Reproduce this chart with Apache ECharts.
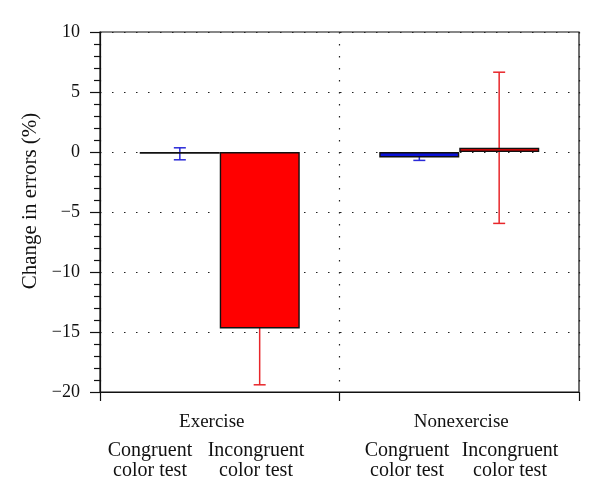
<!DOCTYPE html>
<html>
<head>
<meta charset="utf-8">
<script src="https://cdn.jsdelivr.net/npm/echarts@6/dist/echarts.min.js"></script>
<style>html,body{margin:0;padding:0;background:#fff}#c{width:600px;height:504px}</style>
</head>
<body>
<div id="c"></div>
<script>
const groups = ['Exercise', 'Nonexercise'];
const congruentMean = [-0.15, -0.45];
const congruentErr = [0.5, 0.25];
const incongruentMean = [-14.7, 0.35];
const incongruentErr = [4.7, 6.3];
const subLabels = ['Congruent\ncolor test', 'Incongruent\ncolor test'];
const yMin = -20, yMax = 10, yStep = 5;
const yName = 'Change in errors (%)';

const FONT = 'Liberation Serif';
const chart = echarts.init(document.getElementById('c'), null, {renderer: 'canvas'});

function errData(mean, err) {
  return mean.map((m, i) => [i, m - err[i], m + err[i]]);
}
function errRender(side, color) {
  return function (params, api) {
    const cat = api.value(0);
    const band = api.size([1, 0])[0];
    const off = side * band / 6;
    const lo = api.coord([cat, api.value(1)]);
    const hi = api.coord([cat, api.value(2)]);
    const x = lo[0] + off;
    const cap = 6;
    const st = {stroke: color, lineWidth: 1.5};
    return {
      type: 'group',
      children: [
        {type: 'line', shape: {x1: x, y1: lo[1], x2: x, y2: hi[1]}, style: st},
        {type: 'line', shape: {x1: x - cap, y1: lo[1], x2: x + cap, y2: lo[1]}, style: st},
        {type: 'line', shape: {x1: x - cap, y1: hi[1], x2: x + cap, y2: hi[1]}, style: st}
      ]
    };
  };
}

const dotted = {color: '#222', width: 1.2, type: [1.5, 10.5]};
const subFont = '20px "' + FONT + '"';

chart.setOption({
  animation: false,
  grid: {left: 100, top: 32, width: 479, height: 360, show: true, borderColor: '#111', borderWidth: 1.2, backgroundColor: 'transparent'},
  xAxis: {
    type: 'category',
    data: groups,
    axisLine: {onZero: false, lineStyle: {color: '#111', width: 1.2}},
    axisTick: {show: true, length: 9, lineStyle: {color: '#111', width: 1.2}},
    axisLabel: {color: '#111', fontFamily: FONT, fontSize: 19, margin: 21,
      formatter: (v, i) => i === 0 ? '{a|' + v + '}' : '{b|' + v + '}',
      rich: {
        a: {fontFamily: FONT, fontSize: 19, color: '#111', padding: [0, 16, 0, 0]},
        b: {fontFamily: FONT, fontSize: 19, color: '#111', padding: [0, 0, 0, 4]}
      }},
    splitLine: {show: true, lineStyle: dotted}
  },
  yAxis: {
    type: 'value',
    min: yMin, max: yMax, interval: yStep,
    name: yName,
    nameLocation: 'middle',
    nameGap: 58,
    nameTextStyle: {color: '#111', fontFamily: FONT, fontSize: 21, padding: [0, 0, 0, 22]},
    axisLine: {show: true, lineStyle: {color: '#111', width: 1.2}},
    axisTick: {show: true, length: 10, lineStyle: {color: '#111', width: 1.2}},
    minorTick: {show: true, splitNumber: 5, length: 6, lineStyle: {color: '#111', width: 1.2}},
    axisLabel: {color: '#111', fontFamily: FONT, fontSize: 18, margin: 20,
      formatter: v => String(v).replace('-', '\u2212')},
    splitLine: {show: true, lineStyle: dotted}
  },
  series: [
    {type: 'custom', name: 'cErr', data: errData(congruentMean, congruentErr), renderItem: errRender(-1, '#2a2ad8'), z: 1},
    {type: 'custom', name: 'iErr', data: errData(incongruentMean, incongruentErr), renderItem: errRender(1, '#e8262a'), z: 1},
    {type: 'bar', name: 'Congruent', data: congruentMean, barWidth: 80, barGap: '0%', z: 3,
      itemStyle: {color: '#0a12d8', borderColor: '#111', borderWidth: 1.4}},
    {type: 'bar', name: 'Incongruent', data: incongruentMean, barWidth: 80, barGap: '0%', z: 3,
      itemStyle: {color: '#ff0000', borderColor: '#111', borderWidth: 1.4}}
  ],
  graphic: [
    {type: 'text', x: 150, y: 461, style: {text: subLabels[0], font: subFont, fill: '#111', align: 'center', verticalAlign: 'middle', lineHeight: 20}},
    {type: 'text', x: 256, y: 461, style: {text: subLabels[1], font: subFont, fill: '#111', align: 'center', verticalAlign: 'middle', lineHeight: 20}},
    {type: 'text', x: 407, y: 461, style: {text: subLabels[0], font: subFont, fill: '#111', align: 'center', verticalAlign: 'middle', lineHeight: 20}},
    {type: 'text', x: 510, y: 461, style: {text: subLabels[1], font: subFont, fill: '#111', align: 'center', verticalAlign: 'middle', lineHeight: 20}}
  ]
});
</script>
</body>
</html>
